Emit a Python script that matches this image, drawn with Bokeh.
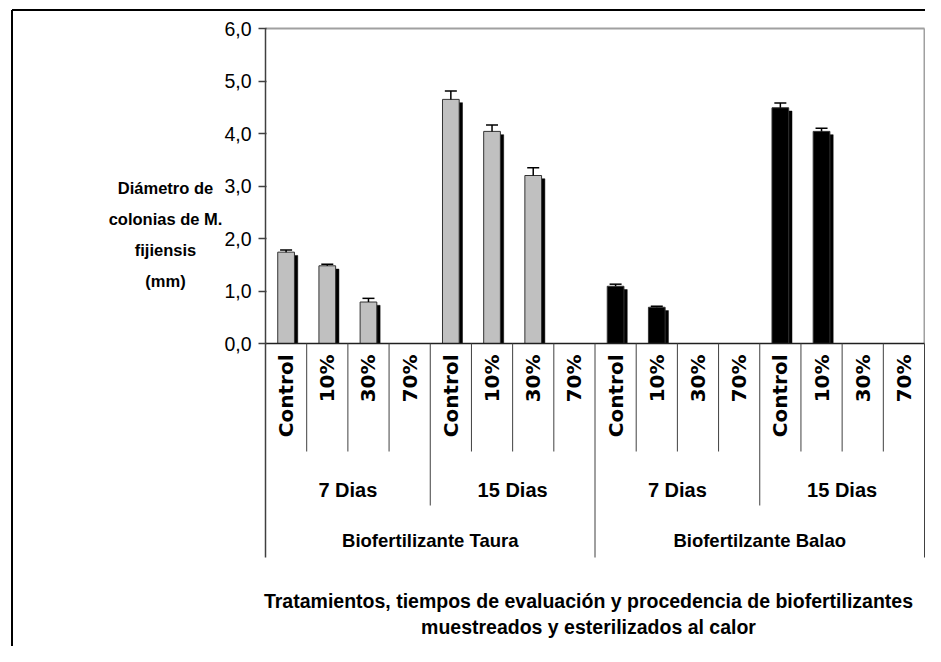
import numpy as np
from bokeh.plotting import figure
from bokeh.models import Range1d, LinearAxis, FixedTicker, CustomJSTickFormatter
from bokeh.core.properties import value
from bokeh.embed import file_html
from bokeh.resources import INLINE

# ---------------- data ----------------
treatments = ["Control", "10%", "30%", "70%"]
times = ["7 Dias", "15 Dias"]
origins = ["Biofertilizante Taura", "Biofertilzante Balao"]
taura_mean = [1.74, 1.48, 0.79, 0.0, 4.65, 4.04, 3.20, 0.0]
taura_err = [0.04, 0.03, 0.07, 0.0, 0.16, 0.12, 0.15, 0.0]
balao_mean = [1.09, 0.69, 0.0, 0.0, 4.49, 4.04, 0.0, 0.0]
balao_err = [0.04, 0.02, 0.0, 0.0, 0.09, 0.06, 0.0, 0.0]
y_ticks = [0, 1, 2, 3, 4, 5, 6]
y_label_lines = ["Diámetro de", "colonias de M.", "fijiensis", "(mm)"]
title_lines = ["Tratamientos, tiempos de evaluación y procedencia de biofertilizantes",
               "muestreados y esterilizados al calor"]

# ---------------- layout (page pixels) ----------------
W, H = 925, 646
PAGE = 0
AX_LEFT, AX_RIGHT = 265, 924
Y0_PX, YTOP_PX = 343, 28
n_cat = len(treatments) * len(times) * len(origins)
px_x = (AX_RIGHT - AX_LEFT) / n_cat
px_y = (Y0_PX - YTOP_PX) / (y_ticks[-1] - y_ticks[0])


def X(px):
    return (px - AX_LEFT) / px_x


def Y(py):
    return (Y0_PX - py) / px_y


def dx(px):
    return px / px_x


def dy(px):
    return px / px_y


NARROW = "Liberation Sans"
WIDE = "DejaVu Sans"

p = figure(width=W, height=H, x_range=Range1d(X(PAGE), X(PAGE + W)),
           y_range=Range1d(Y(PAGE + H), Y(PAGE)),
           output_backend="svg", toolbar_location=None, tools="",
           x_axis_location=None, y_axis_location=None, min_border=0,
           outline_line_color=None, background_fill_color="white",
           border_fill_color="white")
p.xgrid.grid_line_color = None
p.ygrid.grid_line_color = None

means = np.array(taura_mean + balao_mean)
errs = np.array(taura_err + balao_err)
xs = np.arange(n_cat) + 0.5
fills = ["#C0C0C0"] * len(taura_mean) + ["#000000"] * len(balao_mean)
bw = dx(16.7)

# outer chart border (top & left visible)
p.segment(x0=[X(11.5), X(11.5)], y0=[Y(9.5), Y(9.5)],
          x1=[X(11.5), X(PAGE + W + 5)], y1=[Y(PAGE + H + 5), Y(9.5)],
          line_color="black", line_width=2)

# plot area border (top, right) gray
p.segment(x0=[0, n_cat], y0=[y_ticks[-1], y_ticks[-1]], x1=[n_cat, n_cat], y1=[y_ticks[-1], 0],
          line_color="#A0A0A0", line_width=2)

# shadows
pos = means > 0
p.vbar(x=xs[pos] + dx(3.3), width=bw, top=means[pos] - dy(3.3), bottom=0,
       fill_color="black", line_color="black", line_width=0.5)
# bars
p.vbar(x=xs, width=bw, top=means, bottom=0, fill_color=fills,
       line_color="#333333", line_width=1)

# error bars (upper)
e = errs > 0
p.segment(x0=xs[e], y0=means[e], x1=xs[e], y1=means[e] + errs[e],
          line_color="black", line_width=1.5)
p.segment(x0=xs[e] - dx(6), y0=means[e] + errs[e], x1=xs[e] + dx(6), y1=means[e] + errs[e],
          line_color="black", line_width=1.5)

# x axis line
p.segment(x0=[0], y0=[0], x1=[n_cat], y1=[0], line_color="#202020", line_width=1.5)

# category table lines
bottom_row1 = Y(451)
bottom_row2 = Y(505)
bottom_row3 = Y(557)
per_time = len(treatments)
per_origin = len(treatments) * len(times)
bx, by = [], []
for i in range(1, n_cat + 1):
    if i % per_origin == 0:
        by.append(bottom_row3)
    elif i % per_time == 0:
        by.append(bottom_row2)
    else:
        by.append(bottom_row1)
    bx.append(i)
p.segment(x0=bx, y0=[0] * len(bx), x1=bx, y1=by, line_color="#404040", line_width=1)

# y axis
yax = LinearAxis(fixed_location=0, ticker=FixedTicker(ticks=y_ticks),
                 bounds=(bottom_row3, y_ticks[-1]),
                 formatter=CustomJSTickFormatter(code="return tick.toFixed(1).replace('.', ',')"))
yax.axis_line_color = "#404040"
yax.axis_line_width = 1.5
yax.major_tick_out = 7
yax.major_tick_in = 1
yax.major_tick_line_color = "#404040"
yax.major_tick_line_width = 1.5
yax.minor_tick_line_color = None
yax.major_label_standoff = 7
yax.major_label_text_font = NARROW
yax.major_label_text_font_size = "19.5px"
yax.major_label_text_color = "black"
p.add_layout(yax, "left")

# level 1 labels (treatments)
lab1 = [treatments[i % per_time] for i in range(n_cat)]
p.text(x=xs, y=[-dy(11)] * n_cat, text=lab1, angle=np.pi / 2,
       text_align="right", text_baseline="middle",
       text_font=value(WIDE), text_font_style="bold", text_font_size="20px",
       text_color="black")

# level 2 labels (times)
n_time_groups = n_cat // per_time
lab2 = [times[g % len(times)] for g in range(n_time_groups)]
x2 = [g * per_time + per_time / 2 for g in range(n_time_groups)]
p.text(x=x2, y=[Y(489)] * n_time_groups, text=lab2, text_align="center",
       text_baseline="middle", text_font=value(NARROW), text_font_style="bold",
       text_font_size="20px", text_color="black")

# level 3 labels (origins)
x3 = [g * per_origin + per_origin / 2 for g in range(len(origins))]
p.text(x=x3, y=[Y(540)] * len(origins), text=origins, text_align="center",
       text_baseline="middle", text_font=value(NARROW), text_font_style="bold",
       text_font_size="18.5px", text_color="black")

# y axis title
p.text(x=[X(165)] * len(y_label_lines), y=[Y(187 + 31 * k) for k in range(len(y_label_lines))],
       text=y_label_lines, text_align="center", text_baseline="middle",
       text_font=value(NARROW), text_font_style="bold", text_font_size="16.5px",
       text_color="black")

# x axis title
p.text(x=[X(588)] * len(title_lines), y=[Y(600 + 26 * k) for k in range(len(title_lines))],
       text=title_lines, text_align="center", text_baseline="middle",
       text_font=value(NARROW), text_font_style="bold", text_font_size="19.5px",
       text_color="black")

open("out.html", "w").write(file_html(p, INLINE))
